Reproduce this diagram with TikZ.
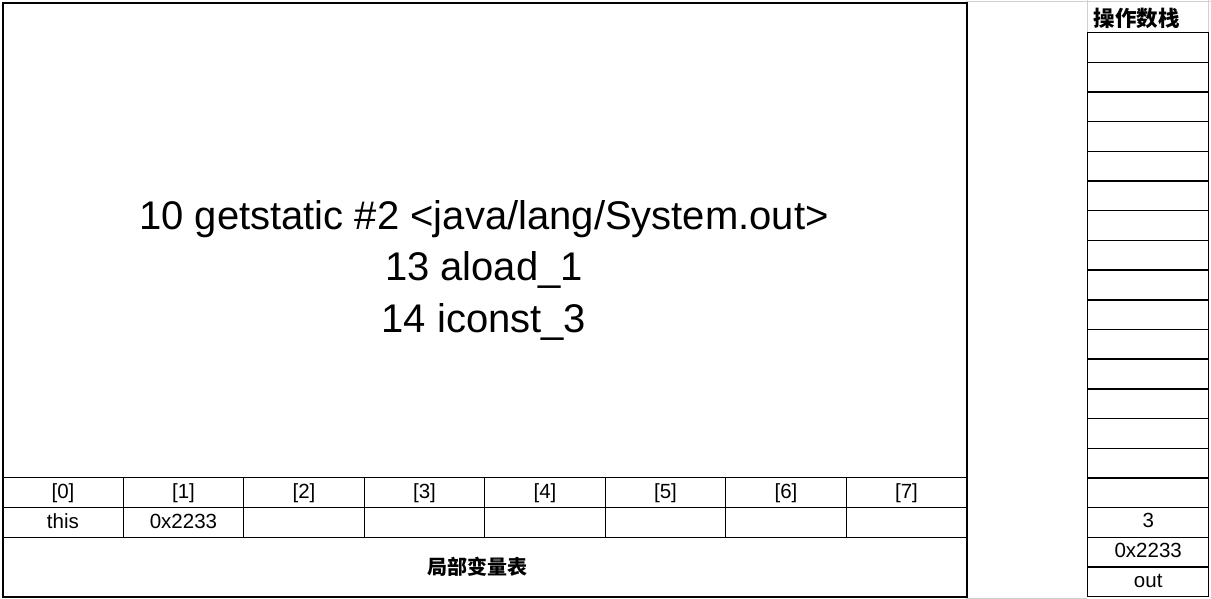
\documentclass[tikz,border=0pt]{standalone}
\usepackage{fontspec}
\setmainfont{Liberation Sans}
\newfontfamily\cjk{Noto Sans CJK SC}
\begin{document}
\begin{tikzpicture}[x=1pt,y=-1pt,
  frame/.style={draw, line width=1.8pt, inner sep=0pt, anchor=north west},
  cell/.style={draw, line width=1.4pt, inner sep=0pt, anchor=north west,
    minimum width=120.5pt, minimum height=30pt,
    font=\fontsize{20.5}{20.5}\selectfont},
  scell/.style={draw, line width=1.4pt, inner sep=0pt, anchor=north west,
    minimum width=121pt, minimum height=29.68pt,
    font=\fontsize{20.5}{20.5}\selectfont},
  txt/.style={font=\fontsize{20.5}{20.5}\selectfont, inner sep=0pt,
    text height=15pt, text depth=4pt},
  code/.style={align=center, font=\fontsize{40}{51.5}\selectfont},
  title/.style={font=\cjk\bfseries\fontsize{20}{20}\selectfont},
  faint/.style={draw=black!18, line width=0.8pt}]
\useasboundingbox (0,0) rectangle (1211,599);
\fill[white] (0,0) rectangle (1211,599);
% faint spreadsheet grid remnants
\coordinate (g1) at (966,1.5);
\coordinate (g2) at (1211,1.5);
\coordinate (g3) at (966,598);
\coordinate (g4) at (1087,598);
\draw[faint] (g1) -- (g2);
\draw[faint] (g3) -- (g4);
% big frame
\node[frame, minimum width=964pt, minimum height=594pt] (frame) at (2,2) {};
% local variable table
\foreach \i in {0,...,7} {
  \node[cell] (idx\i) at ({2+120.5*\i},477) {};
  \node[txt] (idxtext\i) at (idx\i.center) {[\i]};
  \node[cell] (val\i) at ({2+120.5*\i},507) {};
}
\node[txt] (v0text) at (val0.center) {this};
\node[txt] (v1text) at (val1.center) {0x2233};
\node[draw, line width=1.4pt, inner sep=0pt, anchor=north west,
  minimum width=964pt, minimum height=59pt] (lvt) at (2,537) {};
\node[title] (lvtlabel) at (477,567) {局部变量表};
% bytecode text
\node[code] (bytecode) at (484,270) {10 getstatic \#2 <java/lang/System.out>\\13 aload\_1\\14 iconst\_3};
% operand stack
\coordinate (h1) at (1087,0);
\coordinate (h2) at (1208,0);
\draw[faint] (h1) -- (1087,32);
\draw[faint] (h2) -- (1208,32);
\node[font=\cjk\bfseries\fontsize{21.5}{21.5}\selectfont, anchor=west] (stacktitle) at (1090,18) {操作数栈};
\foreach \j in {1,...,19} {
  \node[scell] (s\j) at (1087,{32+29.68*(\j-1)}) {};
}
\node[txt] (s17text) at (s17.center) {3};
\node[txt] (s18text) at (s18.center) {0x2233};
\node[txt] (s19text) at (s19.center) {out};
\end{tikzpicture}
\end{document}
